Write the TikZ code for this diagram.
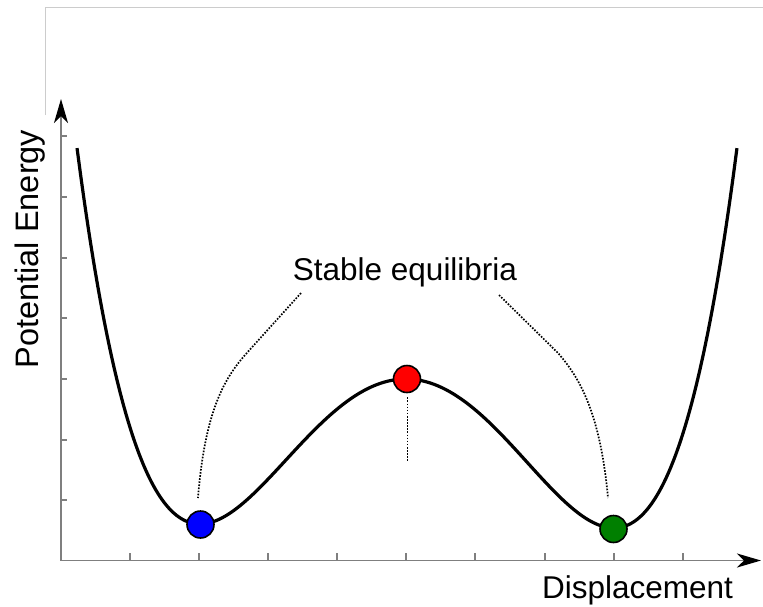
\documentclass[tikz,border=0pt]{standalone}
\usepackage{fontspec}
\setmainfont{Liberation Sans}
\usetikzlibrary{arrows.meta}
\definecolor{axisgray}{HTML}{7F7F7F}
\definecolor{framegray}{HTML}{CCCCCC}
\definecolor{dotgreen}{HTML}{007F00}
\tikzset{
  axisline/.style={draw=axisgray, line width=1.6pt},
  axistip/.style={-{Stealth[length=24pt,width=14pt,inset=7pt,color=black]}},
  tickline/.style={draw=axisgray, line width=1.4pt},
  ball/.style={circle, draw=black, line width=1.6pt, minimum size=27pt, inner sep=0pt},
  guide/.style={draw=black, line width=1.7pt, dash pattern=on 1.6pt off 1.5pt},
  bigtext/.style={font=\fontsize{31.5}{36}\selectfont, inner sep=0pt},
  declare function={ww(\s)=\s*\s-1; pot(\s)=526-151.8*ww(\s)*ww(\s)-4.79*ww(\s)*ww(\s)*ww(\s)+2*\s*(2.541-\s*\s)/1.541;}
}
\begin{document}
\begin{tikzpicture}[x=1pt,y=-1pt]
\useasboundingbox (0,0) rectangle (763,606);
% frame
\draw[framegray, line width=1pt] (45.5,115) -- (45.5,7) -- (763,7);
% axes
\coordinate (origin) at (61,560.5);
\coordinate (ytip) at (61,99);
\coordinate (xtip) at (761,560.5);
\draw[axisline, axistip] (origin) -- (ytip);
\draw[axisline, axistip] (origin) -- (xtip);
\foreach \yy in {136,197,258,318,379,440,500} \draw[tickline] (61,\yy) -- (67,\yy);
\foreach \xx in {130,199,268,337,406,475,545,614,683} \draw[tickline] (\xx,560.5) -- (\xx,553);
% curve
\draw[black, line width=3.2pt, line join=round] plot[domain=-1.594:1.594, samples=160, smooth] ({407+207*\x},{pot(\x)});
% balls
\node[ball, fill=blue] (blueball) at (200.5,524.5) {};
\node[ball, fill=red] (redball) at (407,379) {};
\node[ball, fill=dotgreen] (greenball) at (613.5,529) {};
% labels
\node[bigtext, anchor=base] (stable) at (405,280) {Stable equilibria};
\node[bigtext, anchor=base] (xlabel) at (637.5,598) {Displacement};
\node[bigtext, anchor=base, rotate=90, font=\fontsize{32.5}{36}\selectfont] (ylabel) at (38,249) {Potential Energy};
% guides
\coordinate (gl1) at (301,293);
\coordinate (gl2) at (198,498);
\coordinate (gr1) at (499,295);
\coordinate (gr2) at (608,498);
\coordinate (gm) at (407.5,462);
\draw[guide] (gl1) -- (245,355) .. controls (225,378) and (205,410) .. (gl2);
\draw[guide] (gr1) -- (558,353) .. controls (578,376) and (600,410) .. (gr2);
\draw[guide] (redball.south) ++(0.5,4) -- (gm);
\end{tikzpicture}
\end{document}
